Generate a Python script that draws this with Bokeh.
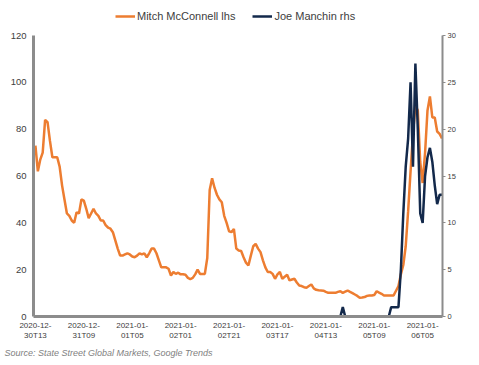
from bokeh.plotting import figure
from bokeh.models import Range1d, LinearAxis, FixedTicker, Legend, LegendItem, Title
from bokeh.embed import file_html
from bokeh.resources import INLINE

# Hourly index from 2020-12-30T13
mcconnell = [73, 62, 67, 70, 84, 83, 75, 68, 68, 68,
             64, 56, 50, 44, 43, 41, 40, 44.5, 44, 50,
             49.5, 46, 42, 44, 46, 44, 43, 41, 41, 39,
             38, 37.5, 36, 32.5, 29, 26, 26, 26.5, 27, 26.5,
             25.6, 25.3, 26, 27, 26.5, 27, 25.3, 27, 29, 29,
             27, 24, 21, 21, 21, 20.4, 17.5, 19, 18.2, 18.7,
             18, 18, 17.8, 16.5, 16, 16.5, 18, 20, 18.2, 18.2,
             18.2, 25, 54, 59, 55, 52, 50, 48.8, 43, 40,
             36.4, 36, 37.4, 29, 28.2, 28, 25.3, 23, 21.8, 26,
             30, 31, 29, 27.5, 24, 21, 19, 19, 18.2, 16.1,
             18, 19, 16.1, 17, 17.8, 15.4, 15.8, 16.1, 14.5, 13.2,
             13, 12.5, 12.3, 13, 13.7, 12, 11.4, 11.2, 11.1, 11,
             10.5, 10.1, 10.1, 10.1, 10.1, 10.5, 10.8, 10.1, 10.6, 11.1,
             10.5, 10, 9.4, 8.8, 8, 8.1, 8.3, 8.8, 9, 9,
             9.2, 10.8, 10.2, 9.7, 9, 9, 9, 9, 9, 11,
             13, 18, 22, 30, 45, 62, 78, 90, 88, 66,
             57, 70, 88, 94, 85, 85, 79, 78, 76]

manchin = [0] * 127 + [1] + [0] * 19 + [1, 1, 1, 1, 5, 11, 16, 19, 25, 16,
                                      27, 20, 11, 10, 15, 17, 18, 16.5, 14, 12,
                                      13, 13]

hours = list(range(len(mcconnell)))

tick_hours = [0, 20, 40, 60, 80, 100, 120, 140, 160]
tick_labels = ["2020-12-\n30T13", "2020-12-\n31T09", "2021-01-\n01T05", "2021-01-\n02T01",
               "2021-01-\n02T21", "2021-01-\n03T17", "2021-01-\n04T13", "2021-01-\n05T09",
               "2021-01-\n06T05"]
left_ticks = [0, 20, 40, 60, 80, 100, 120]
right_ticks = [0, 5, 10, 15, 20, 25, 30]
left_max = 120
right_max = 30

ORANGE = "#ED7D31"
NAVY = "#13294B"
GREY = "#8C8C8C"
LABEL = "#404040"

# the frame reaches the top of the figure so the legend can sit above the axis tops
TOP_GAP = 35       # px between frame top and the 120 / 30 level
PLOT_H = 281       # px from 0 to 120
FRAME_H = PLOT_H + TOP_GAP
y_hi = left_max * FRAME_H / PLOT_H
y2_hi = right_max * FRAME_H / PLOT_H

p = figure(width=463, height=360, output_backend="svg", toolbar_location=None,
           x_range=Range1d(-0.8, 168.2), y_range=Range1d(0, y_hi),
           min_border_left=33, min_border_right=21, min_border_top=0, min_border_bottom=44)
p.extra_y_ranges = {"rhs": Range1d(0, y2_hi)}
p.outline_line_color = None
p.xgrid.visible = False
p.ygrid.visible = False
p.background_fill_color = "white"

# axes
p.yaxis.ticker = FixedTicker(ticks=left_ticks)
p.yaxis.bounds = (0, left_max)
p.yaxis.axis_line_color = GREY
p.yaxis.axis_line_width = 3
p.yaxis.major_tick_line_color = None
p.yaxis.major_tick_out = 0
p.yaxis.major_tick_in = 0
p.yaxis.minor_tick_line_color = None
p.yaxis.minor_tick_out = 0
p.yaxis.major_label_text_font = "Liberation Sans"
p.yaxis.major_label_text_font_size = "9.5px"
p.yaxis.major_label_text_color = LABEL
p.yaxis.major_label_standoff = 7

p.xaxis.ticker = FixedTicker(ticks=tick_hours)
p.xaxis.major_label_overrides = {h: l for h, l in zip(tick_hours, tick_labels)}
p.xaxis.axis_line_color = GREY
p.xaxis.axis_line_width = 3
p.xaxis.major_tick_line_color = None
p.xaxis.major_tick_out = 0
p.xaxis.major_tick_in = 0
p.xaxis.minor_tick_line_color = None
p.xaxis.minor_tick_out = 0
p.xaxis.major_label_text_font = "Liberation Sans"
p.xaxis.major_label_text_font_size = "8px"
p.xaxis.major_label_text_color = LABEL
p.xaxis.major_label_standoff = 4

ry = LinearAxis(y_range_name="rhs", ticker=FixedTicker(ticks=right_ticks), bounds=(0, right_max))
ry.axis_line_color = GREY
ry.axis_line_width = 2
ry.major_tick_line_color = GREY
ry.major_tick_out = 3
ry.major_tick_in = 0
ry.minor_tick_line_color = None
ry.minor_tick_out = 0
ry.major_label_text_font = "Liberation Sans"
ry.major_label_text_font_size = "7.5px"
ry.major_label_text_color = LABEL
ry.major_label_standoff = 2
p.add_layout(ry, "right")

r1 = p.line(hours, mcconnell, line_color=ORANGE, line_width=2.5)
r2 = p.line(hours, manchin, line_color=NAVY, line_width=2.5, y_range_name="rhs")

legend = Legend(items=[LegendItem(label="Mitch McConnell lhs", renderers=[r1]),
                       LegendItem(label="Joe Manchin rhs", renderers=[r2])],
                orientation="horizontal", location=(82, FRAME_H - 23),
                padding=0, margin=0, spacing=17, border_line_color=None,
                background_fill_alpha=0, glyph_width=20, glyph_height=14,
                label_height=14, label_standoff=2,
                label_text_font="Liberation Sans", label_text_font_size="11px",
                label_text_color=LABEL)
p.add_layout(legend, "center")

src = Title(text="Source: State Street Global Markets, Google Trends",
            align="left", offset=-29, standoff=5,
            text_font="Liberation Sans", text_font_style="italic",
            text_font_size="9px", text_color="#7F7F7F")
p.add_layout(src, "below")

open("out.html", "w").write(file_html(p, INLINE))
